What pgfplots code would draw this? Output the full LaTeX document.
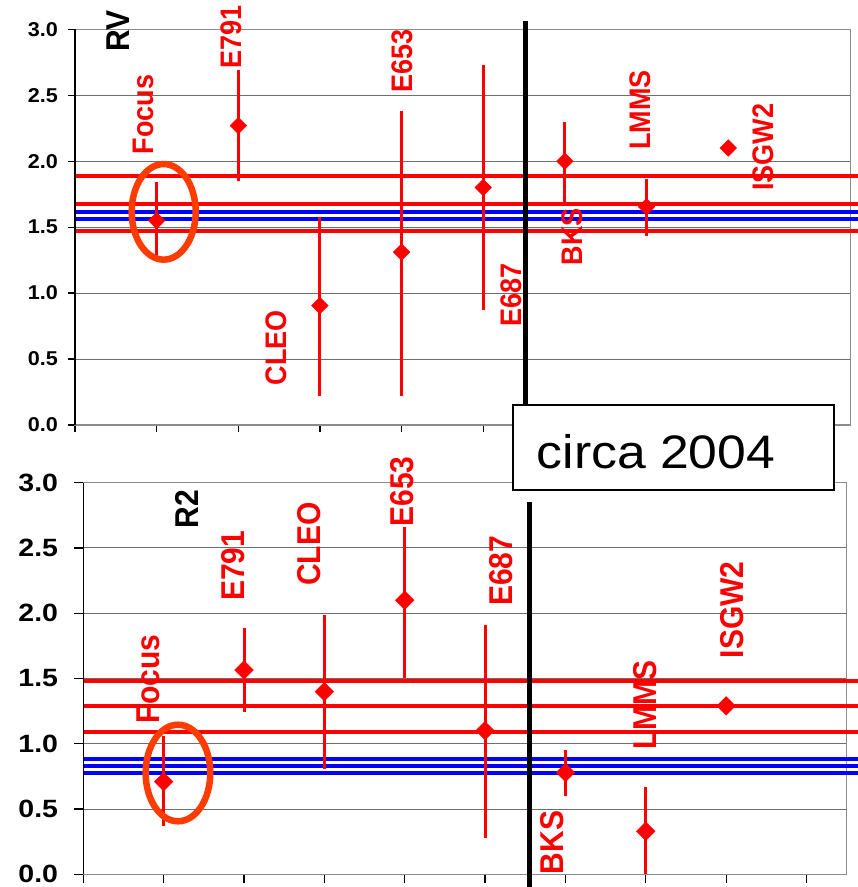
\documentclass[border=0pt]{standalone}
\usepackage{pgfplots}
\pgfplotsset{compat=1.18}
\usepackage{fontspec}
\setmainfont{Liberation Sans}
\definecolor{ell}{RGB}{255,60,0}
\definecolor{gridc}{RGB}{110,110,110}
\pgfplotsset{
  panel/.style={
    anchor=south west, scale only axis,
    xmin=0, xmax=9.5, ymin=0, ymax=3,
    xtick={0,1,2,3,4,5,6,7,8,9}, xticklabels={},
    ytick={0,0.5,1,1.5,2,2.5,3},
    ymajorgrids, grid style={gridc, line width=1pt},
    axis line style={black!45, line width=1.5pt},
    tick align=outside, tick pos=left,
    tick style={black, line width=1.2pt},
    /pgf/number format/.cd, fixed, fixed zerofill, precision=1, assume math mode=true,
    /pgfplots/.cd,
    clip=false,
  },
}
\tikzset{lab/.style={red, font=\fontsize{#1}{#1}\selectfont\bfseries, xscale=1.1, rotate=90, inner sep=0pt}}
\begin{document}
\begin{tikzpicture}
\useasboundingbox (0,0) rectangle (858pt,887pt);
% ---------------- top panel (RV)
\begin{axis}[panel, at={(75pt,462pt)}, width=775.7pt, height=395.7pt,
  major tick length=7pt,
  yticklabel style={font=\fontsize{20}{20}\selectfont\bfseries, inner sep=0pt, anchor=east, xshift=-10pt, xscale=1.08}]
\addplot[red, line width=4pt] coordinates {(0,1.89) (9.59,1.89)};
\addplot[red, line width=4pt] coordinates {(0,1.675) (9.59,1.675)};
\addplot[red, line width=4pt] coordinates {(0,1.473) (9.59,1.473)};
\addplot[blue, line width=4pt] coordinates {(0,1.615) (9.59,1.615)};
\addplot[blue, line width=4pt] coordinates {(0,1.56) (9.59,1.56)};
\draw[black, line width=1.5pt] (axis cs:0,0) -- (axis cs:0,3);
\addplot[red, only marks, mark=square*, mark size=5.9pt, mark options={rotate=45, fill=red, draw=red},
  error bars/.cd, y dir=both, y explicit, error mark=none, error bar style={red, line width=3pt}]
  coordinates {
  (1,1.55) += (0,0.29) -= (0,0.28)
  (2,2.27) += (0,0.42) -= (0,0.42)
  (3,0.905) += (0,0.675) -= (0,0.685)
  (4,1.31) += (0,1.07) -= (0,1.09)
  (5,1.80) += (0,0.93) -= (0,0.93)
  (6,2.00) += (0,0.30) -= (0,0.31)
  (7,1.655) += (0,0.21) -= (0,0.225)
  (8,2.10) += (0,0) -= (0,0)
  };
\draw[ell, line width=6.5pt] (axis cs:1.086,1.616) ellipse [x radius=32pt, y radius=47.8pt];
\node[lab=27] at (axis cs:0.843,2.354) {Focus};
\node[lab=27] at (axis cs:1.908,2.944) {E791};
\node[lab=27] at (axis cs:4.005,2.761) {E653};
\node[lab=27] at (axis cs:2.462,0.584) {CLEO};
\node[lab=27] at (axis cs:5.348,0.986) {E687};
\node[lab=27] at (axis cs:6.093,1.428) {BKS};
\node[lab=27] at (axis cs:6.917,2.388) {LMMS};
\node[lab=27] at (axis cs:8.432,2.104) {ISGW2};
\node[lab=30, black] at (axis cs:0.527,2.987) {RV};
\draw[black, line width=5.5pt] (axis cs:5.52,3.063) -- (axis cs:5.52,0);
\end{axis}
% ---------------- bottom panel (R2)
\begin{axis}[panel, at={(83.3pt,12.7pt)}, width=763.4pt, height=391.6pt,
  major tick length=9pt,
  yticklabel style={font=\fontsize{25}{25}\selectfont\bfseries, inner sep=0pt, anchor=east, xshift=-16pt, xscale=1.14}]
\addplot[red, line width=4pt] coordinates {(0,1.484) (9.64,1.484)};
\addplot[red, line width=4pt] coordinates {(0,1.29) (9.64,1.29)};
\addplot[red, line width=4pt] coordinates {(0,1.09) (9.64,1.09)};
\addplot[blue, line width=4pt] coordinates {(0,0.884) (9.64,0.884)};
\addplot[blue, line width=4pt] coordinates {(0,0.83) (9.64,0.83)};
\addplot[blue, line width=4pt] coordinates {(0,0.774) (9.64,0.774)};
\draw[black, line width=1.5pt] (axis cs:0,0) -- (axis cs:0,3);
\addplot[red, only marks, mark=square*, mark size=6.6pt, mark options={rotate=45, fill=red, draw=red},
  error bars/.cd, y dir=both, y explicit, error mark=none, error bar style={red, line width=3pt}]
  coordinates {
  (1,0.71) += (0,0.35) -= (0,0.34)
  (2,1.565) += (0,0.325) -= (0,0.32)
  (3,1.40) += (0,0.59) -= (0,0.595)
  (4,2.10) += (0,0.56) -= (0,0.60)
  (5,1.10) += (0,0.81) -= (0,0.82)
  (6,0.78) += (0,0.17) -= (0,0.18)
  (7,0.33) += (0,0.335) -= (0,0.33)
  (8,1.29) += (0,0) -= (0,0)
  };
\draw[ell, line width=6.5pt] (axis cs:1.178,0.776) ellipse [x radius=32.3pt, y radius=48.3pt];
\node[lab=30] at (axis cs:0.809,1.495) {Focus};
\node[lab=30] at (axis cs:1.867,2.364) {E791};
\node[lab=30] at (axis cs:2.806,2.530) {CLEO};
\node[lab=30] at (axis cs:3.972,2.932) {E653};
\node[lab=30] at (axis cs:5.202,2.326) {E687};
\node[lab=30] at (axis cs:8.079,2.025) {ISGW2};
\node[lab=30] at (axis cs:6.987,1.297) {LMMS};
\node[lab=30] at (axis cs:5.835,0.244) {BKS};
\node[lab=30, black] at (axis cs:1.290,2.798) {R2};
\draw[black, line width=5.5pt] (axis cs:5.55,2.855) -- (axis cs:5.55,-0.1);
\end{axis}
% ---------------- annotation box
\draw[black, line width=2pt, fill=white] (513.3pt,482pt) rectangle (834pt,397pt);
\node[font=\fontsize{47}{47}\selectfont, xscale=1.1, inner sep=0pt] at (656pt,435pt) {circa 2004};
\end{tikzpicture}
\end{document}
